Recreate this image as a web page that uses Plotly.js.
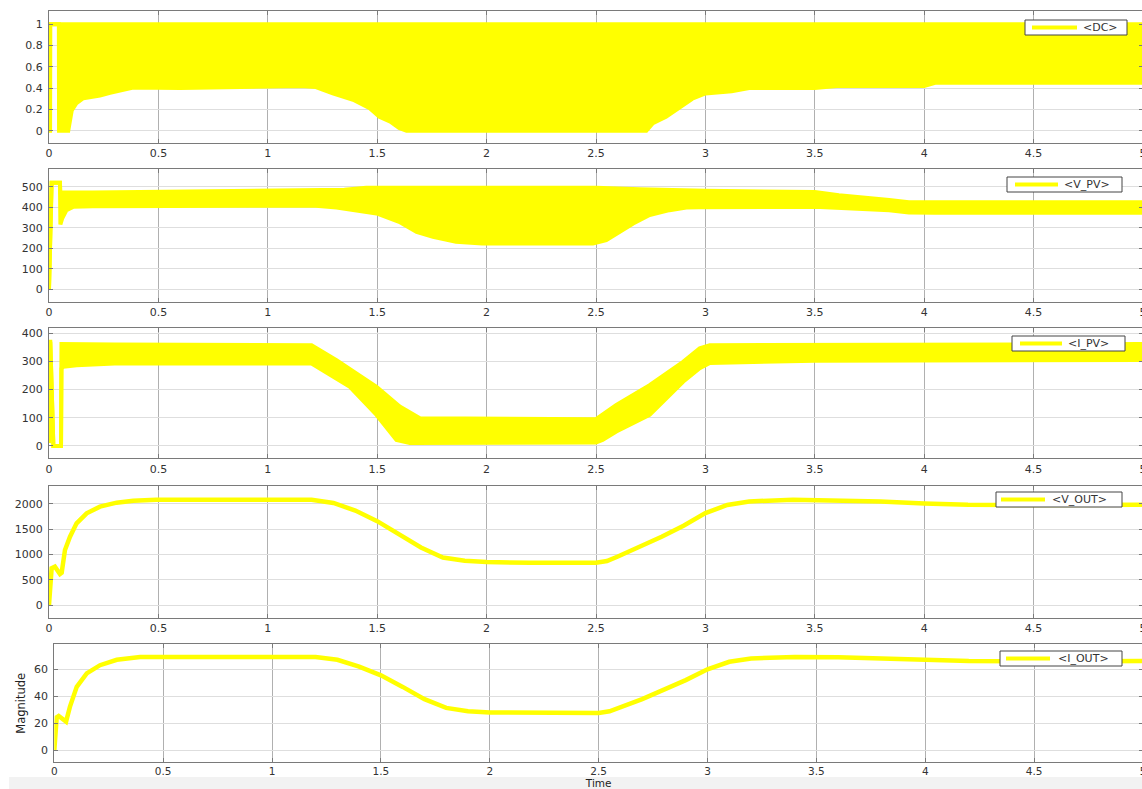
<!DOCTYPE html>
<html><head><meta charset="utf-8">
<script src="https://cdn.plot.ly/plotly-3.0.1.min.js"></script>
<style>html,body{margin:0;padding:0;background:#fff;overflow:hidden}#chart{width:1143px;height:789px}</style>
</head><body><div id="chart"></div>
<script>
// ---- DC (duty cycle) envelope ----
const dcUpperT = [0, 5];
const dcUpper  = [1, 1];
const dcLowerT = [0, 0.005, 0.006, 0.045, 0.046, 0.088, 0.104, 0.126, 0.157, 0.233, 0.279, 0.34, 0.385, 0.6, 1.15, 1.22, 1.297, 1.39, 1.466, 1.51, 1.56, 1.60, 1.634, 2.73, 2.76, 2.82, 2.88, 2.94, 3.0, 3.12, 3.2, 3.5, 3.6, 4.0, 4.05, 5.0];
const dcLower  = [0, 0, 1, 1, 0, 0, 0.19, 0.26, 0.305, 0.33, 0.355, 0.385, 0.405, 0.40, 0.42, 0.41, 0.35, 0.29, 0.21, 0.13, 0.085, 0.025, 0, 0, 0.07, 0.13, 0.21, 0.30, 0.35, 0.37, 0.40, 0.40, 0.42, 0.42, 0.45, 0.45];

// ---- V_PV envelope ----
const vpvUpperT = [0, 0.012, 0.05, 0.052, 0.2, 1.0, 1.35, 1.45, 2.5, 2.7, 3.0, 3.5, 3.61, 3.84, 3.93, 4.05, 5.0];
const vpvUpper  = [0, 520, 520, 472, 472, 478, 485, 495, 495, 488, 480, 475, 459, 435, 425, 424, 424];
const vpvLowerT = [0, 0.012, 0.05, 0.052, 0.06, 0.08, 0.11, 0.2, 0.918, 1.22, 1.314, 1.497, 1.60, 1.68, 1.755, 1.86, 1.98, 2.486, 2.547, 2.61, 2.67, 2.745, 2.836, 2.913, 2.97, 3.5, 3.61, 3.84, 3.93, 4.05, 5.0];
const vpvLower  = [0, 520, 520, 316, 345, 386, 402, 405, 407, 407, 399, 370, 329, 280, 256, 232, 224, 224, 240, 280, 321, 362, 386, 399, 400, 402, 397, 386, 375, 373, 373];

// ---- I_PV envelope ----
const ipvUpperT = [0, 0.006, 0.02, 0.055, 0.057, 0.3, 1.2, 1.314, 1.497, 1.603, 1.695, 2.50, 2.593, 2.745, 2.898, 2.974, 3.02, 5.0];
const ipvUpper  = [370, 370, 0, 0, 362, 360, 358, 305, 210, 140, 98, 95, 146, 216, 299, 347, 358, 362];
const ipvLowerT = [0, 0.006, 0.02, 0.055, 0.057, 0.065, 0.126, 0.3, 1.2, 1.375, 1.497, 1.588, 1.649, 2.50, 2.53, 2.593, 2.745, 2.898, 2.974, 3.02, 3.5, 5.0];
const ipvLower  = [10, 370, 0, 0, 275, 281, 287, 293, 293, 210, 110, 21, 10, 12, 21, 51, 110, 228, 276, 295, 303, 305];

// ---- V_OUT ----
const voutT = [0, 0.012, 0.027, 0.05, 0.058, 0.073, 0.096, 0.126, 0.172, 0.233, 0.309, 0.385, 0.49, 1.2, 1.3, 1.4, 1.5, 1.6, 1.7, 1.8, 1.9, 2.0, 2.2, 2.5, 2.55, 2.6, 2.7, 2.8, 2.9, 3.0, 3.1, 3.2, 3.4, 3.6, 3.8, 4.0, 4.2, 4.5, 5.0];
const vout  = [0, 727, 760, 614, 640, 1089, 1353, 1617, 1815, 1947, 2026, 2065, 2085, 2085, 2020, 1870, 1660, 1410, 1140, 940, 875, 850, 835, 835, 870, 960, 1150, 1350, 1570, 1820, 1980, 2050, 2085, 2075, 2050, 2010, 1985, 1980, 1985];

// ---- I_OUT ----
const ioutT = [0, 0.011, 0.02, 0.054, 0.072, 0.103, 0.149, 0.21, 0.287, 0.394, 1.2, 1.3, 1.4, 1.5, 1.6, 1.7, 1.8, 1.9, 2.0, 2.2, 2.5, 2.55, 2.6, 2.7, 2.8, 2.9, 3.0, 3.1, 3.2, 3.4, 3.6, 3.8, 4.0, 4.2, 4.5, 5.0];
const iout  = [0, 24.6, 25.5, 21.4, 32.5, 47, 57, 63, 67, 69, 69, 67, 62, 55.5, 47, 38, 31.5, 29, 28.2, 27.7, 27.7, 29, 32, 38, 45, 52, 60, 65.5, 68, 69, 68.8, 68, 66.8, 66, 65.8, 66];

const names = ['&lt;DC&gt;', '&lt;V_PV&gt;', '&lt;I_PV&gt;', '&lt;V_OUT&gt;', '&lt;I_OUT&gt;'];
const yTickStep = [0.2, 100, 100, 500, 20];
const yRanges = [[-0.116, 1.125], [-60, 585], [-44, 418], [-251, 2356], [-8.6, 78.4]];

const Y = '#ffff00';
const F = 'DejaVu Sans, Liberation Sans, sans-serif';
const W = 1143, H = 789;

function band(n, tU, vU, tL, vL) {
  const xa = n === 1 ? 'x' : 'x' + n, ya = n === 1 ? 'y' : 'y' + n;
  return [
    {x: tU, y: vU, xaxis: xa, yaxis: ya, type: 'scatter', mode: 'lines',
     line: {color: Y, width: 4}, name: names[n - 1], showlegend: false},
    {x: tL, y: vL, xaxis: xa, yaxis: ya, type: 'scatter', mode: 'lines',
     line: {color: Y, width: 4}, fill: 'tonexty', fillcolor: Y, showlegend: false, hoverinfo: 'skip'}
  ];
}
function line(n, t, v) {
  return {x: t, y: v, xaxis: 'x' + n, yaxis: 'y' + n, type: 'scatter', mode: 'lines',
          line: {color: Y, width: 4.5}, name: names[n - 1], showlegend: false};
}

const data = [
  ...band(1, dcUpperT, dcUpper, dcLowerT, dcLower),
  ...band(2, vpvUpperT, vpvUpper, vpvLowerT, vpvLower),
  ...band(3, ipvUpperT, ipvUpper, ipvLowerT, ipvLower),
  line(4, voutT, vout),
  line(5, ioutT, iout)
];

// pixel boxes [top, bottom] of each panel, and left edges
const boxes = [[11, 143], [169.3, 301.7], [328.3, 458.3], [486, 617.7], [644.3, 762.3]];
const lefts = [49, 49, 49, 49, 54.3];
// legend boxes: [left, right, top, lineStart, lineEnd, textStart]
const legendBoxes = [
  [1025, 1127, 20, 1032, 1077, 1081],
  [1007, 1122, 177, 1015, 1058, 1062],
  [1012, 1125, 336, 1020, 1062, 1066],
  [996, 1122, 492, 1001, 1045, 1050],
  [1000, 1122, 651, 1006, 1050, 1056]
];

const px = v => v / W, py = v => (H - v) / H;

const common = {
  showgrid: true, zeroline: false, showline: true, mirror: 'allticks',
  linecolor: '#7a7a7a', linewidth: 1, ticks: 'inside', ticklen: 4, tickcolor: '#7a7a7a',
  tickfont: {family: F, size: 11, color: '#333'}, fixedrange: true, ticklabeloverflow: 'allow'
};

const shapes = [{type: 'rect', xref: 'paper', yref: 'paper', x0: 0.008, x1: 1, y0: 0, y1: py(777),
                 fillcolor: '#f2f2f2', line: {width: 0}, layer: 'below'}];
const annotations = [];
legendBoxes.forEach((b, i) => {
  const top = b[2], bot = top + 15, mid = top + 7.5;
  shapes.push({type: 'rect', xref: 'paper', yref: 'paper', x0: px(b[0]), x1: px(b[1]), y0: py(bot), y1: py(top),
               fillcolor: '#fff', line: {color: '#444', width: 1}, layer: 'above'});
  shapes.push({type: 'line', xref: 'paper', yref: 'paper', x0: px(b[3]), x1: px(b[4]), y0: py(mid), y1: py(mid),
               line: {color: Y, width: 4}, layer: 'above'});
  annotations.push({xref: 'paper', yref: 'paper', x: px(b[5]), y: py(mid), xanchor: 'left', yanchor: 'middle',
                    text: names[i], showarrow: false, font: {family: F, size: 11, color: '#333'}});
});

const layout = {
  width: W, height: H, margin: {l: 0, r: 0, t: 0, b: 0},
  paper_bgcolor: '#fff', plot_bgcolor: '#fff',
  font: {family: F, color: '#333'}, showlegend: false,
  shapes, annotations
};
for (let i = 0; i < 5; i++) {
  const n = i + 1, sfx = n === 1 ? '' : String(n);
  layout['xaxis' + sfx] = Object.assign({}, common, {
    range: [0, 5], tick0: 0, dtick: 0.5, domain: [lefts[i] / W, 1],
    anchor: 'y' + sfx, gridcolor: '#b0b0b0'
  });
  layout['yaxis' + sfx] = Object.assign({}, common, {
    range: yRanges[i], tick0: 0, dtick: yTickStep[i],
    domain: [(H - boxes[i][1]) / H, (H - boxes[i][0]) / H],
    anchor: 'x' + sfx, gridcolor: '#dedede', ticklabelstandoff: 3
  });
}
layout.xaxis5.tickfont = {family: F, size: 10.5, color: '#333'};
layout.xaxis5.ticklabelstandoff = -1;
layout.xaxis5.title = {text: 'Time', font: {family: F, size: 10.5, color: '#222'}, standoff: 3};
layout.yaxis5.title = {text: 'Magnitude', font: {family: F, size: 11.5, color: '#222'}, standoff: 6};

Plotly.newPlot('chart', data, layout, {displayModeBar: false, staticPlot: true});
</script>
</body></html>
